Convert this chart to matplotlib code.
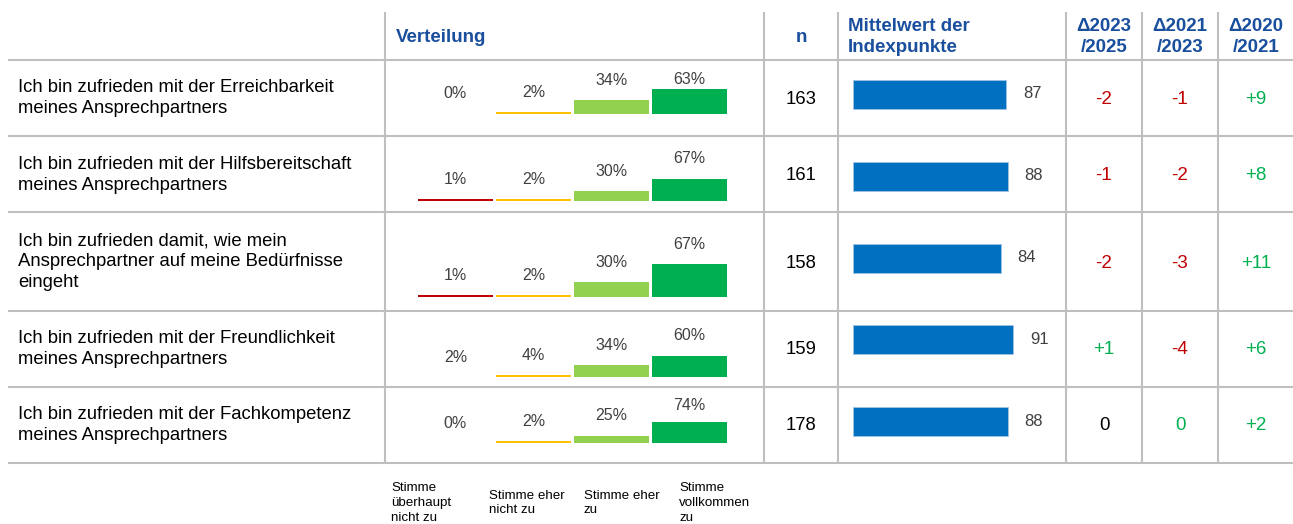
import matplotlib
matplotlib.use("Agg")
import matplotlib.pyplot as plt

plt.rcParams["font.family"] = ["Liberation Sans", "DejaVu Sans"]

# data
items = [
    "Ich bin zufrieden mit der Erreichbarkeit\nmeines Ansprechpartners",
    "Ich bin zufrieden mit der Hilfsbereitschaft\nmeines Ansprechpartners",
    "Ich bin zufrieden damit, wie mein\nAnsprechpartner auf meine Bedürfnisse\neingeht",
    "Ich bin zufrieden mit der Freundlichkeit\nmeines Ansprechpartners",
    "Ich bin zufrieden mit der Fachkompetenz\nmeines Ansprechpartners",
]
categories = ["Stimme\nüberhaupt\nnicht zu", "Stimme eher\nnicht zu", "Stimme eher\nzu", "Stimme\nvollkommen\nzu"]
pct_not_at_all = [0, 1, 1, 2, 0]
pct_rather_not = [2, 2, 2, 4, 2]
pct_rather = [34, 30, 30, 34, 25]
pct_fully = [63, 67, 67, 60, 74]
n_values = [163, 161, 158, 159, 178]
mean_index = [87, 88, 84, 91, 88]
delta_headers = ["Δ2023\n/2025", "Δ2021\n/2023", "Δ2020\n/2021"]
delta_2023_2025 = [-2, -1, -2, 1, 0]
delta_2021_2023 = [-1, -2, -3, -4, 0]
delta_2020_2021 = [9, 8, 11, 6, 2]

# layout (pixels)
W, H = 1293, 524
row_edges = [60, 136, 212, 311, 387, 463]
row_centers = [98, 175, 262, 349, 425]
dist_baselines = [114, 201, 297, 377, 443]
dist_scale = [0.40, 0.33, 0.49, 0.35, 0.28]   # px per percent
vlines = [385, 764, 838, 1066, 1142, 1218]
delta_x = [1104, 1180, 1256]
legend_x = [391, 489, 584, 679]
# the reference leaves out the bar of row 4, first category
bar_hidden = [(3, 0)]

blue_head = "#1A4F9E"
grid_c = "#BFBFBF"
dist_colors = ["#C00000", "#FFC000", "#92D050", "#00B050"]
red, green = "#C00000", "#00B050"
zero_colors = ["black", green, green]

fig = plt.figure(figsize=(W / 100, H / 100), dpi=100)
ax = fig.add_axes([0, 0, 1, 1])
ax.set_xlim(0, W)
ax.set_ylim(H, 0)
ax.axis("off")

# grid
for y in row_edges:
    ax.plot([8, W], [y, y], color=grid_c, lw=1.5, solid_capstyle="butt")
for x in vlines:
    ax.plot([x, x], [12, 463], color=grid_c, lw=1.5, solid_capstyle="butt")

# headers
head_kw = dict(fontsize=13.5, fontweight="bold", color=blue_head, va="center")
ax.text(396, 38, "Verteilung", **head_kw)
ax.text(801, 38, "n", ha="center", **head_kw)
ax.text(848, 37, "Mittelwert der\nIndexpunkte", linespacing=1.3, **head_kw)
for x, h in zip(delta_x, delta_headers):
    ax.text(x, 37, h, ha="center", linespacing=1.3, **head_kw)

# row labels and n
for i, lab in enumerate(items):
    ax.text(18, row_centers[i], lab, fontsize=13.3, va="center", ha="left", linespacing=1.28)
    ax.text(801, row_centers[i] + 1, str(n_values[i]), fontsize=13.3, va="center", ha="center")

# distribution bars, one small axes per row
dist = list(zip(pct_not_at_all, pct_rather_not, pct_rather, pct_fully))
x_left, x_right = 416.5, 728.5
for i, vals in enumerate(dist):
    sc = dist_scale[i]
    base = dist_baselines[i]
    rax = fig.add_axes([x_left / W, (H - base) / H, (x_right - x_left) / W, 100 * sc / H])
    rax.set_xlim(-0.5, 3.5)
    rax.set_ylim(0, 100)
    rax.axis("off")
    heights = [0 if (v == 0 or (i, j) in bar_hidden) else max(v, 1.6 / sc)
               for j, v in enumerate(vals)]
    rax.bar(range(4), heights, width=0.96, color=dist_colors, linewidth=0)
    for j, v in enumerate(vals):
        top_px = base - heights[j] * sc
        ly = max(top_px - 20, row_edges[i] + 19)
        ax.text(x_left + 39 + 78 * j, ly, f"{v}%", fontsize=11.5, color="#404040",
                ha="center", va="center")

# mean index bars
max_ax = fig.add_axes([853 / W, 0, 176 / W, 1])
max_ax.set_xlim(0, 100)
max_ax.set_ylim(H, 0)
max_ax.axis("off")
bar_y = [94, 176, 258, 339, 421]
max_ax.barh(bar_y, mean_index, height=29, color="#0070C0", edgecolor="#9DC3E6", linewidth=0.6)
for y, v in zip(bar_y, mean_index):
    max_ax.text(v + 14.8, y, str(v), fontsize=12, color="#404040", ha="center", va="center")

# deltas
for c, col in enumerate([delta_2023_2025, delta_2021_2023, delta_2020_2021]):
    for i, v in enumerate(col):
        if v > 0:
            s, colr = f"+{v}", green
        elif v < 0:
            s, colr = f"{v}", red
        else:
            s, colr = "0", zero_colors[c]
        ax.text(delta_x[c], row_centers[i] + 1, s, fontsize=13.5, color=colr, ha="center", va="center")

# category legend below
for x, cat in zip(legend_x, categories):
    ax.text(x, 503, cat, fontsize=9.6, ha="left", va="center", linespacing=1.3)

fig.savefig("out.png", dpi=100)
